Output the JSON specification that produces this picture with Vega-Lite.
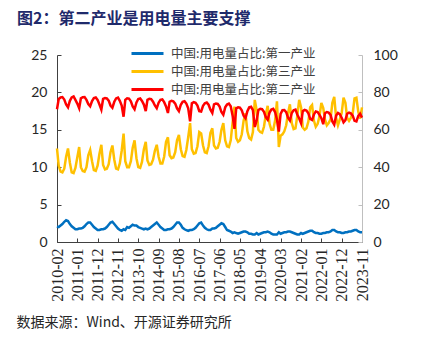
{
"$schema":"https://vega.github.io/schema/vega-lite/v6.json",
"width":305,"height":187,
"autosize":{"type":"none"},
"padding":{"left":57,"top":55,"right":83,"bottom":99},
"background":"white",
"config":{"view":{"stroke":null}},
"title":{"text":"图2：第二产业是用电量主要支撑","anchor":"start","frame":"group","dx":-40,"offset":19,"font":"Noto Sans CJK SC","fontSize":16,"fontWeight":"bold","color":"#1F2A6B"},
"data":{"values":[
{"d":"2010/02/01","p1":2.1,"p3":12.5,"p2":71.0},
{"d":"2010/03/01","p1":2.0,"p3":10.2,"p2":76.5},
{"d":"2010/04/01","p1":2.2,"p3":9.4,"p2":77.3},
{"d":"2010/05/01","p1":2.4,"p3":9.3,"p2":77.5},
{"d":"2010/06/01","p1":2.7,"p3":9.8,"p2":76.2},
{"d":"2010/07/01","p1":2.9,"p3":11.4,"p2":73.5},
{"d":"2010/08/01","p1":2.8,"p3":12.5,"p2":72.0},
{"d":"2010/09/01","p1":2.4,"p3":10.6,"p2":75.5},
{"d":"2010/10/01","p1":2.1,"p3":9.3,"p2":77.3},
{"d":"2010/11/01","p1":1.9,"p3":9.2,"p2":77.8},
{"d":"2010/12/01","p1":1.7,"p3":9.9,"p2":76.0},
{"d":"2011/01/01","p1":1.7,"p3":11.3,"p2":74.0},
{"d":"2011/02/01","p1":1.8,"p3":12.7,"p2":71.5},
{"d":"2011/03/01","p1":1.8,"p3":10.0,"p2":76.8},
{"d":"2011/04/01","p1":1.9,"p3":9.5,"p2":77.4},
{"d":"2011/05/01","p1":2.1,"p3":9.4,"p2":77.5},
{"d":"2011/06/01","p1":2.4,"p3":10.0,"p2":76.0},
{"d":"2011/07/01","p1":2.6,"p3":11.6,"p2":73.8},
{"d":"2011/08/01","p1":2.6,"p3":12.3,"p2":72.6},
{"d":"2011/09/01","p1":2.3,"p3":10.8,"p2":75.4},
{"d":"2011/10/01","p1":2.0,"p3":9.6,"p2":77.0},
{"d":"2011/11/01","p1":1.8,"p3":9.5,"p2":77.3},
{"d":"2011/12/01","p1":1.6,"p3":10.2,"p2":76.0},
{"d":"2012/01/01","p1":1.6,"p3":11.8,"p2":73.5},
{"d":"2012/02/01","p1":1.7,"p3":13.0,"p2":70.8},
{"d":"2012/03/01","p1":1.7,"p3":10.3,"p2":76.5},
{"d":"2012/04/01","p1":1.8,"p3":9.7,"p2":77.0},
{"d":"2012/05/01","p1":2.0,"p3":9.8,"p2":76.8},
{"d":"2012/06/01","p1":2.3,"p3":10.4,"p2":75.6},
{"d":"2012/07/01","p1":2.6,"p3":12.0,"p2":73.0},
{"d":"2012/08/01","p1":2.7,"p3":12.9,"p2":71.8},
{"d":"2012/09/01","p1":2.4,"p3":11.0,"p2":75.0},
{"d":"2012/10/01","p1":2.1,"p3":9.8,"p2":76.8},
{"d":"2012/11/01","p1":1.8,"p3":9.7,"p2":77.2},
{"d":"2012/12/01","p1":1.6,"p3":10.5,"p2":75.5},
{"d":"2013/01/01","p1":1.5,"p3":12.2,"p2":73.0},
{"d":"2013/02/01","p1":1.7,"p3":14.5,"p2":67.0},
{"d":"2013/03/01","p1":1.6,"p3":10.8,"p2":76.0},
{"d":"2013/04/01","p1":2.0,"p3":10.0,"p2":76.8},
{"d":"2013/05/01","p1":1.9,"p3":10.0,"p2":76.7},
{"d":"2013/06/01","p1":2.1,"p3":10.8,"p2":75.2},
{"d":"2013/07/01","p1":2.3,"p3":12.6,"p2":72.5},
{"d":"2013/08/01","p1":2.2,"p3":13.6,"p2":71.0},
{"d":"2013/09/01","p1":2.2,"p3":11.2,"p2":74.6},
{"d":"2013/10/01","p1":2.0,"p3":10.0,"p2":76.5},
{"d":"2013/11/01","p1":1.9,"p3":9.9,"p2":76.8},
{"d":"2013/12/01","p1":1.8,"p3":10.7,"p2":75.4},
{"d":"2014/01/01","p1":1.7,"p3":12.4,"p2":73.5},
{"d":"2014/02/01","p1":1.8,"p3":13.4,"p2":70.0},
{"d":"2014/03/01","p1":1.7,"p3":10.9,"p2":76.0},
{"d":"2014/04/01","p1":1.8,"p3":10.3,"p2":76.6},
{"d":"2014/05/01","p1":2.0,"p3":10.4,"p2":76.4},
{"d":"2014/06/01","p1":2.2,"p3":11.0,"p2":75.0},
{"d":"2014/07/01","p1":2.4,"p3":12.2,"p2":73.0},
{"d":"2014/08/01","p1":2.6,"p3":13.0,"p2":71.5},
{"d":"2014/09/01","p1":2.3,"p3":11.4,"p2":74.5},
{"d":"2014/10/01","p1":2.0,"p3":10.5,"p2":76.0},
{"d":"2014/11/01","p1":1.8,"p3":10.5,"p2":76.2},
{"d":"2014/12/01","p1":1.6,"p3":11.4,"p2":74.8},
{"d":"2015/01/01","p1":1.6,"p3":13.4,"p2":72.5},
{"d":"2015/02/01","p1":1.7,"p3":14.0,"p2":69.0},
{"d":"2015/03/01","p1":1.7,"p3":11.6,"p2":75.0},
{"d":"2015/04/01","p1":1.8,"p3":11.2,"p2":75.5},
{"d":"2015/05/01","p1":2.0,"p3":11.3,"p2":75.2},
{"d":"2015/06/01","p1":2.3,"p3":12.0,"p2":74.0},
{"d":"2015/07/01","p1":2.6,"p3":13.6,"p2":71.5},
{"d":"2015/08/01","p1":2.6,"p3":14.3,"p2":70.0},
{"d":"2015/09/01","p1":2.3,"p3":12.4,"p2":73.4},
{"d":"2015/10/01","p1":1.9,"p3":11.5,"p2":75.0},
{"d":"2015/11/01","p1":1.7,"p3":11.4,"p2":75.3},
{"d":"2015/12/01","p1":1.6,"p3":12.3,"p2":74.0},
{"d":"2016/01/01","p1":1.5,"p3":14.0,"p2":71.5},
{"d":"2016/02/01","p1":1.6,"p3":15.9,"p2":64.5},
{"d":"2016/03/01","p1":1.6,"p3":12.4,"p2":74.2},
{"d":"2016/04/01","p1":1.7,"p3":11.8,"p2":74.8},
{"d":"2016/05/01","p1":1.9,"p3":11.9,"p2":74.4},
{"d":"2016/06/01","p1":2.2,"p3":12.8,"p2":73.0},
{"d":"2016/07/01","p1":2.5,"p3":14.7,"p2":70.0},
{"d":"2016/08/01","p1":2.6,"p3":14.5,"p2":69.8},
{"d":"2016/09/01","p1":2.2,"p3":12.9,"p2":72.8},
{"d":"2016/10/01","p1":1.9,"p3":12.0,"p2":74.2},
{"d":"2016/11/01","p1":1.7,"p3":11.9,"p2":74.6},
{"d":"2016/12/01","p1":1.6,"p3":12.8,"p2":73.4},
{"d":"2017/01/01","p1":1.6,"p3":14.6,"p2":70.8},
{"d":"2017/02/01","p1":1.8,"p3":15.2,"p2":69.0},
{"d":"2017/03/01","p1":1.8,"p3":12.9,"p2":73.6},
{"d":"2017/04/01","p1":1.9,"p3":12.5,"p2":74.0},
{"d":"2017/05/01","p1":2.1,"p3":12.6,"p2":73.8},
{"d":"2017/06/01","p1":2.3,"p3":13.4,"p2":72.4},
{"d":"2017/07/01","p1":2.5,"p3":15.0,"p2":69.5},
{"d":"2017/08/01","p1":2.4,"p3":15.9,"p2":68.0},
{"d":"2017/09/01","p1":2.0,"p3":13.6,"p2":72.0},
{"d":"2017/10/01","p1":1.6,"p3":12.8,"p2":73.5},
{"d":"2017/11/01","p1":1.5,"p3":12.7,"p2":74.0},
{"d":"2017/12/01","p1":1.4,"p3":13.6,"p2":72.6},
{"d":"2018/01/01","p1":1.2,"p3":16.0,"p2":67.5},
{"d":"2018/02/01","p1":1.3,"p3":18.1,"p2":60.5},
{"d":"2018/03/01","p1":1.2,"p3":13.9,"p2":71.5},
{"d":"2018/04/01","p1":1.1,"p3":13.4,"p2":72.0},
{"d":"2018/05/01","p1":1.2,"p3":13.6,"p2":71.8},
{"d":"2018/06/01","p1":1.3,"p3":14.4,"p2":70.4},
{"d":"2018/07/01","p1":1.4,"p3":16.2,"p2":67.5},
{"d":"2018/08/01","p1":1.4,"p3":17.2,"p2":66.2},
{"d":"2018/09/01","p1":1.3,"p3":14.8,"p2":70.0},
{"d":"2018/10/01","p1":1.1,"p3":13.9,"p2":72.0},
{"d":"2018/11/01","p1":1.1,"p3":13.7,"p2":72.3},
{"d":"2018/12/01","p1":1.0,"p3":14.7,"p2":70.5},
{"d":"2019/01/01","p1":1.0,"p3":19.0,"p2":61.5},
{"d":"2019/02/01","p1":1.2,"p3":17.6,"p2":65.0},
{"d":"2019/03/01","p1":1.0,"p3":15.0,"p2":70.6},
{"d":"2019/04/01","p1":1.1,"p3":14.7,"p2":71.2},
{"d":"2019/05/01","p1":1.2,"p3":14.6,"p2":71.0},
{"d":"2019/06/01","p1":1.3,"p3":15.4,"p2":69.6},
{"d":"2019/07/01","p1":1.3,"p3":17.0,"p2":66.8},
{"d":"2019/08/01","p1":1.4,"p3":18.2,"p2":65.4},
{"d":"2019/09/01","p1":1.3,"p3":15.8,"p2":69.2},
{"d":"2019/10/01","p1":1.1,"p3":15.0,"p2":70.8},
{"d":"2019/11/01","p1":1.0,"p3":15.0,"p2":71.2},
{"d":"2019/12/01","p1":1.0,"p3":16.2,"p2":69.5},
{"d":"2020/01/01","p1":1.0,"p3":18.8,"p2":65.5},
{"d":"2020/02/01","p1":1.3,"p3":12.7,"p2":59.0},
{"d":"2020/03/01","p1":1.1,"p3":14.2,"p2":68.5},
{"d":"2020/04/01","p1":1.2,"p3":14.4,"p2":70.5},
{"d":"2020/05/01","p1":1.3,"p3":14.8,"p2":70.6},
{"d":"2020/06/01","p1":1.3,"p3":15.6,"p2":69.4},
{"d":"2020/07/01","p1":1.4,"p3":17.2,"p2":66.5},
{"d":"2020/08/01","p1":1.4,"p3":18.4,"p2":65.0},
{"d":"2020/09/01","p1":1.3,"p3":15.9,"p2":69.0},
{"d":"2020/10/01","p1":1.2,"p3":15.1,"p2":70.4},
{"d":"2020/11/01","p1":1.1,"p3":15.2,"p2":70.8},
{"d":"2020/12/01","p1":1.0,"p3":16.9,"p2":68.2},
{"d":"2021/01/01","p1":1.0,"p3":19.0,"p2":66.0},
{"d":"2021/02/01","p1":1.2,"p3":18.0,"p2":63.5},
{"d":"2021/03/01","p1":1.1,"p3":15.3,"p2":70.0},
{"d":"2021/04/01","p1":1.2,"p3":15.0,"p2":70.6},
{"d":"2021/05/01","p1":1.3,"p3":15.2,"p2":70.3},
{"d":"2021/06/01","p1":1.4,"p3":16.1,"p2":68.8},
{"d":"2021/07/01","p1":1.5,"p3":18.0,"p2":65.8},
{"d":"2021/08/01","p1":1.5,"p3":18.3,"p2":65.3},
{"d":"2021/09/01","p1":1.3,"p3":16.2,"p2":68.2},
{"d":"2021/10/01","p1":1.2,"p3":15.4,"p2":69.8},
{"d":"2021/11/01","p1":1.2,"p3":15.8,"p2":69.5},
{"d":"2021/12/01","p1":1.1,"p3":16.8,"p2":68.0},
{"d":"2022/01/01","p1":1.1,"p3":18.6,"p2":66.2},
{"d":"2022/02/01","p1":1.2,"p3":17.9,"p2":63.0},
{"d":"2022/03/01","p1":1.2,"p3":16.4,"p2":68.8},
{"d":"2022/04/01","p1":1.3,"p3":15.6,"p2":69.5},
{"d":"2022/05/01","p1":1.3,"p3":15.9,"p2":69.2},
{"d":"2022/06/01","p1":1.4,"p3":16.4,"p2":68.0},
{"d":"2022/07/01","p1":1.6,"p3":18.6,"p2":64.5},
{"d":"2022/08/01","p1":1.6,"p3":19.4,"p2":62.8},
{"d":"2022/09/01","p1":1.4,"p3":16.6,"p2":67.6},
{"d":"2022/10/01","p1":1.3,"p3":15.6,"p2":69.0},
{"d":"2022/11/01","p1":1.3,"p3":16.4,"p2":68.4},
{"d":"2022/12/01","p1":1.2,"p3":17.2,"p2":66.5},
{"d":"2023/01/01","p1":1.2,"p3":19.3,"p2":64.0},
{"d":"2023/02/01","p1":1.3,"p3":18.6,"p2":65.2},
{"d":"2023/03/01","p1":1.3,"p3":16.6,"p2":68.6},
{"d":"2023/04/01","p1":1.4,"p3":16.2,"p2":69.2},
{"d":"2023/05/01","p1":1.4,"p3":16.6,"p2":68.8},
{"d":"2023/06/01","p1":1.5,"p3":17.2,"p2":67.6},
{"d":"2023/07/01","p1":1.6,"p3":19.2,"p2":64.8},
{"d":"2023/08/01","p1":1.6,"p3":19.3,"p2":64.5},
{"d":"2023/09/01","p1":1.4,"p3":17.4,"p2":67.4},
{"d":"2023/10/01","p1":1.3,"p3":16.5,"p2":68.6},
{"d":"2023/11/01","p1":1.3,"p3":18.0,"p2":66.5}
]},
"encoding":{
 "x":{"field":"d","type":"temporal",
  "scale":{"domain":[{"year":2010,"month":2,"date":1},{"year":2023,"month":11,"date":1}]},
  "axis":{"orient":"bottom","values":[{"year":2010,"month":2,"date":1},{"year":2011,"month":1,"date":1},{"year":2011,"month":12,"date":1},{"year":2012,"month":11,"date":1},{"year":2013,"month":10,"date":1},{"year":2014,"month":9,"date":1},{"year":2015,"month":8,"date":1},{"year":2016,"month":7,"date":1},{"year":2017,"month":6,"date":1},{"year":2018,"month":5,"date":1},{"year":2019,"month":4,"date":1},{"year":2020,"month":3,"date":1},{"year":2021,"month":2,"date":1},{"year":2022,"month":1,"date":1},{"year":2022,"month":12,"date":1},{"year":2023,"month":11,"date":1}],
   "format":"%Y-%m","labelAngle":-90,"labelFont":"Liberation Serif","labelFontSize":16,"labelColor":"#262626","labelPadding":10,"labelFlush":false,"labelOverlap":false,
   "tickSize":-4,"tickColor":"#404040","domainColor":"#404040","grid":false,
   "title":"数据来源：Wind、开源证券研究所","titleX":-41,"titleY":80,"titleAlign":"left","titleAnchor":"start","titleBaseline":"middle","titleFont":"Noto Sans CJK SC","titleFontSize":14,"titleFontWeight":"normal","titleColor":"#262626"}},
 "color":{"field":"k","type":"nominal",
  "scale":{"domain":["p1","p3","p2"],"range":["#0070C0","#FFC000","#FF0000"]},
  "legend":{"orient":"none","legendX":73,"legendY":-9,"direction":"vertical","title":null,"padding":0,"symbolType":"stroke","symbolSize":1024,"symbolStrokeWidth":3,"clipHeight":15,"labelFont":"Noto Sans CJK SC","labelFontSize":12.5,"labelColor":"#404040","labelOffset":6,"rowPadding":3,"labelLimit":300,
   "labelExpr":"datum.value == 'p1' ? '中国:用电量占比:第一产业' : datum.value == 'p3' ? '中国:用电量占比:第三产业' : '中国:用电量占比:第二产业'"}}
},
"layer":[
 {"transform":[{"fold":["p1","p3"],"as":["k","v"]}],
  "mark":{"type":"line","strokeWidth":2.5},
  "encoding":{"y":{"field":"v","type":"quantitative","scale":{"domain":[0,25]},
   "axis":{"orient":"left","values":[0,5,10,15,20,25],"grid":false,"title":null,"domainColor":"#404040","tickColor":"#404040","tickSize":-4,"labelPadding":14,"labelFont":"Lato","labelFontSize":14,"labelColor":"#262626"}}}},
 {"transform":[{"fold":["p2"],"as":["k","v"]}],
  "mark":{"type":"line","strokeWidth":2.5},
  "encoding":{"y":{"field":"v","type":"quantitative","scale":{"domain":[0,100]},
   "axis":{"orient":"right","values":[0,20,40,60,80,100],"grid":false,"title":null,"domainColor":"#BFBFBF","tickColor":"#BFBFBF","tickSize":-4,"labelPadding":15,"labelFont":"Lato","labelFontSize":14,"labelColor":"#262626"}}}}
],
"resolve":{"scale":{"y":"independent"}}
}
